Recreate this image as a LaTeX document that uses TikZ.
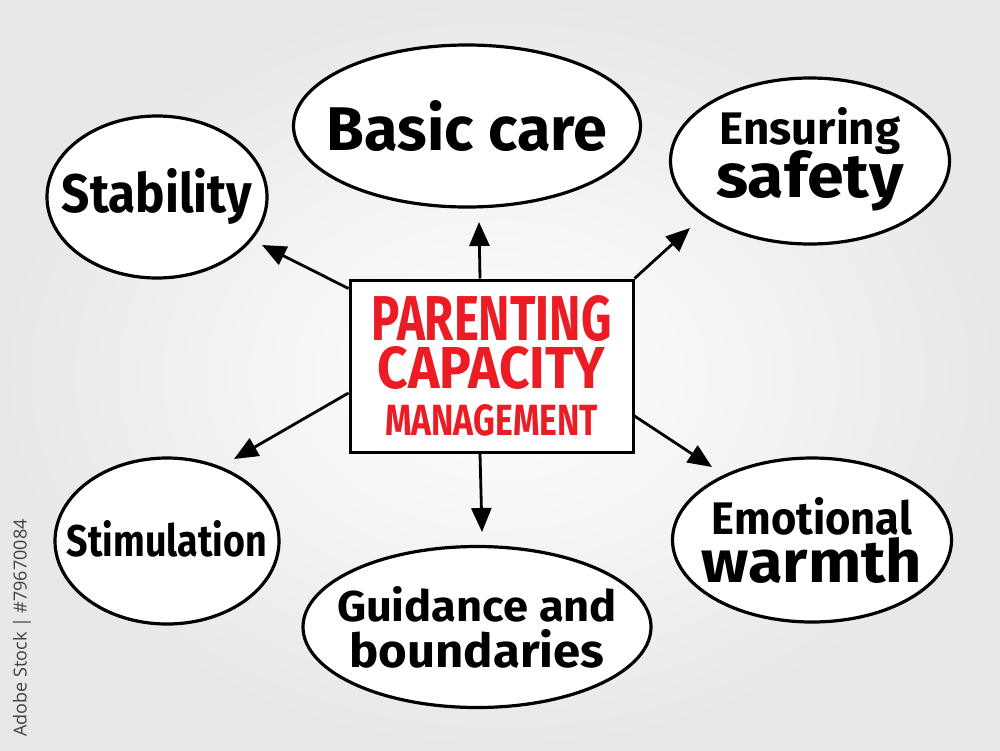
\documentclass[tikz,border=0pt]{standalone}
\usepackage{fontspec}
\setmainfont{Fira Sans}
\newfontfamily\stockfont{Open Sans}
\usepackage{graphicx}
\usetikzlibrary{arrows.meta,shapes.geometric,positioning}
\definecolor{markerred}{RGB}{236,28,36}
% hand lettering squeezed to a measured width and height
\newcommand{\hw}[3]{\resizebox{#1pt}{#2pt}{\bfseries #3}}

\begin{document}
\begin{tikzpicture}[x=1pt,y=-1pt,>={Triangle[length=24pt,width=20pt]},
  bubble/.style={draw,ellipse,line width=3.2pt,fill=white,inner sep=0pt},
  lettering/.style={inner sep=0pt,align=center,
    font={\fontsize{10}{48}\selectfont\lineskiplimit=-100pt}},
  centrebox/.style={draw,rectangle,line width=3pt,fill=white,inner sep=0pt,
    minimum width=283pt,minimum height=172pt,align=center,text=markerred,
    font={\fontsize{10}{47.5}\selectfont\lineskiplimit=-100pt}},
  spoke/.style={->,line width=2.8pt}]
  % background
  \useasboundingbox (0,0) rectangle (1000,750);
  \shade[inner color=white,outer color=black!9] (0,0) rectangle (1000,750);
  \node[rotate=90,text=black!75,font=\stockfont\fontsize{18}{18}\selectfont] (stock) at (22,628) {Adobe Stock | \#79670084};

  % centre box
  \node[centrebox] (box) at (491.5,366) {\hw{240}{45}{PARENTING}\\\hw{228}{42}{CAPACITY}\\\hw{213}{31}{MANAGEMENT}};

  % bubbles
  \node[bubble,minimum width=220pt,minimum height=162pt] (stability) at (157,197) {};
  \node[bubble,minimum width=347pt,minimum height=162pt] (basic) at (467,126) {};
  \node[bubble,minimum width=279pt,minimum height=166pt] (safety) at (810,161) {};
  \node[bubble,minimum width=224pt,minimum height=166pt] (stimulation) at (167,541) {};
  \node[bubble,minimum width=348pt,minimum height=161pt] (guidance) at (477,627) {};
  \node[bubble,minimum width=279pt,minimum height=164pt] (warmth) at (812,540) {};

  % lettering
  \node[lettering] (stabilitytext) at (stability) {\hw{190}{44}{Stability}};
  \node[lettering] (basictext) at (basic) {\hw{280}{50}{Basic care}};
  \node[lettering,font={\fontsize{10}{53}\selectfont\lineskiplimit=-100pt}] (safetytext) at ([yshift=2pt]safety) {\hw{181}{37}{Ensuring}\\\hw{187}{47}{safety}};
  \node[lettering] (stimulationtext) at ([yshift=2pt]stimulation) {\hw{200}{36}{Stimulation}};
  \node[lettering,font={\fontsize{10}{46}\selectfont\lineskiplimit=-100pt}] (guidancetext) at (guidance) {\hw{280}{35}{Guidance and}\\\hw{255}{38}{boundaries}};
  \node[lettering] (warmthtext) at (warmth) {\hw{200}{37}{Emotional}\\\hw{220}{45}{warmth}};

  % spokes
  \coordinate (tipstab) at (262,245);
  \coordinate (tipbasic) at (479,222);
  \coordinate (tipsafe) at (690,228);
  \coordinate (tipstim) at (234,459);
  \coordinate (tipguide) at (482,532);
  \coordinate (tipwarm) at (712,467);
  \draw[spoke] ([yshift=-10pt]box.north west) -- (tipstab);
  \draw[spoke] ([xshift=-11.5pt]box.north) -- (tipbasic);
  \draw[spoke] (box.north east) -- (tipsafe);
  \draw[spoke] ([yshift=-27pt]box.west) -- (tipstim);
  \draw[spoke] ([xshift=-11.5pt]box.south) -- (tipguide);
  \draw[spoke] ([yshift=-50pt]box.east) -- (tipwarm);
\end{tikzpicture}
\end{document}
